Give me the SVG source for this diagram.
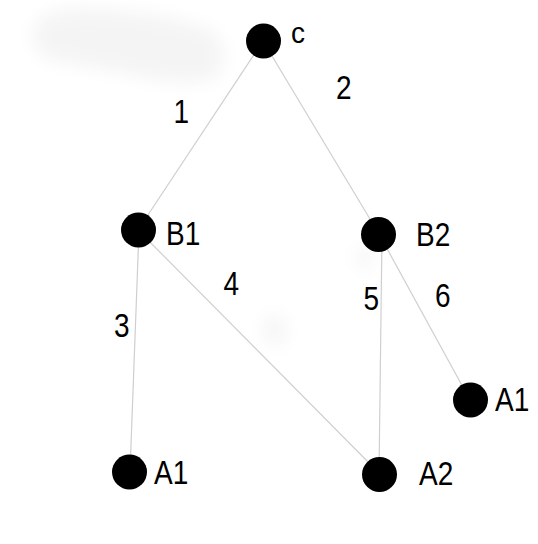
<svg xmlns="http://www.w3.org/2000/svg" width="538" height="544" viewBox="0 0 538 544">
<style>
.edge{stroke:#cfcfcf;stroke-width:1.2;fill:none}
.dot{fill:#000}
.lbl{font-family:"Liberation Sans",Arial,sans-serif;font-size:28px;fill:#000}
</style>
<defs>
<filter id="blur" x="-30%" y="-50%" width="160%" height="200%"><feGaussianBlur stdDeviation="9"/></filter>
</defs>
<rect width="538" height="544" fill="#fff"/>
<g id="smudges" filter="url(#blur)" fill="#f4f4f4">
<path d="M35 25 Q50 4 110 10 Q175 16 210 30 Q232 48 218 76 Q190 88 140 76 Q90 66 50 60 Q28 48 35 25Z"/>
<path d="M262 325 Q272 310 282 318 Q290 335 280 345 Q266 348 262 325Z"/>
<path d="M358 250 Q366 240 372 252 Q374 268 364 272 Q356 262 358 250Z"/>
</g>
<g id="connectors">
<line class="edge" x1="263" y1="41" x2="138" y2="230"/>
<line class="edge" x1="263" y1="41" x2="379" y2="234"/>
<line class="edge" x1="139" y1="230" x2="130" y2="472"/>
<line class="edge" x1="138" y1="230" x2="380" y2="474"/>
<line class="edge" x1="382" y1="234" x2="379" y2="474"/>
<line class="edge" x1="379" y1="234" x2="470" y2="400"/>
</g>
<g id="node-c"><circle class="dot" cx="263.5" cy="41" r="17.5"/><text class="lbl" transform="matrix(1,0,0,1.05,291,43)">c</text></g>
<g id="node-B1"><circle class="dot" cx="138.5" cy="230" r="17.5"/><text class="lbl" transform="matrix(1,0,0,1.16,166,244.5)">B1</text></g>
<g id="node-B2"><circle class="dot" cx="378.5" cy="234.5" r="17.5"/><text class="lbl" transform="matrix(1,0,0,1.16,416,245.5)">B2</text></g>
<g id="node-A1-left"><circle class="dot" cx="129.5" cy="472" r="17.5"/><text class="lbl" transform="matrix(1,0,0,1.16,154,483.5)">A1</text></g>
<g id="node-A2"><circle class="dot" cx="379.5" cy="474.5" r="17.5"/><text class="lbl" transform="matrix(1,0,0,1.16,419,485)">A2</text></g>
<g id="node-A1-right"><circle class="dot" cx="470.5" cy="400" r="17.5"/><text class="lbl" transform="matrix(1,0,0,1.16,495,411)">A1</text></g>
<g id="edge-labels">
<text class="lbl" transform="matrix(1,0,0,1.16,173.5,123)">1</text>
<text class="lbl" transform="matrix(1,0,0,1.16,336,99)">2</text>
<text class="lbl" transform="matrix(1,0,0,1.16,114,337)">3</text>
<text class="lbl" transform="matrix(1,0,0,1.16,223.5,295)">4</text>
<text class="lbl" transform="matrix(1,0,0,1.16,363.5,310)">5</text>
<text class="lbl" transform="matrix(1,0,0,1.16,435,307)">6</text>
</g>
</svg>
